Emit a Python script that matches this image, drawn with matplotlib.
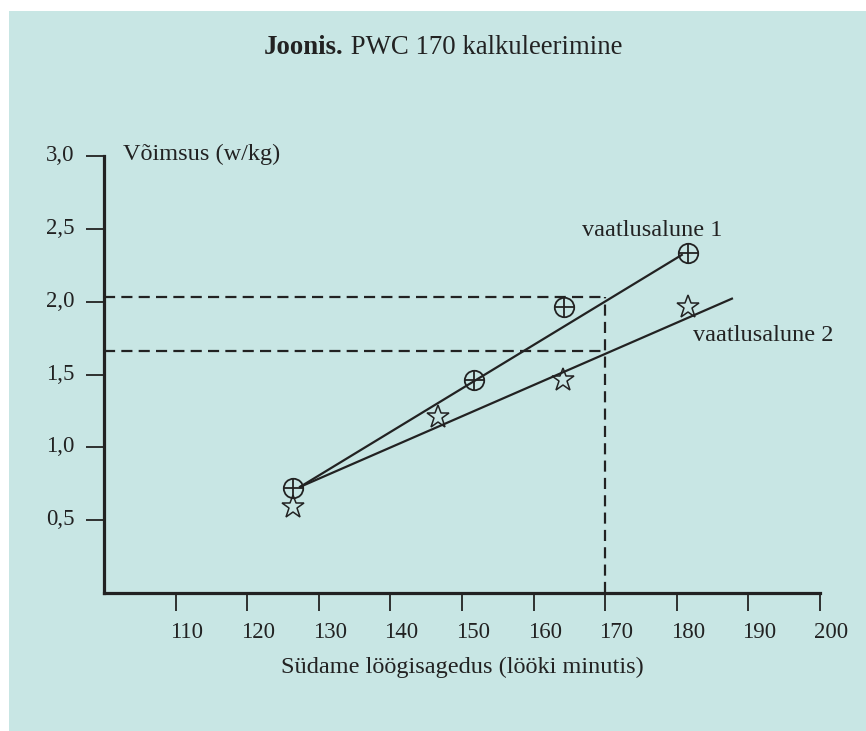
import matplotlib.pyplot as plt
import matplotlib.transforms as mtransforms
from matplotlib.patches import Rectangle

# subject 1: heart rate (beats/min) vs power (W/kg)
hr1 = [126.4, 151.7, 164.2, 181.6]
pw1 = [0.72, 1.46, 1.96, 2.33]
# subject 2
hr2 = [126.4, 146.6, 164.1, 181.6]
pw2 = [0.59, 1.21, 1.46, 1.96]

# drawn fit lines (end points)
fit1_x = [127.4, 180.7]
fit1_y = [0.73, 2.32]
fit2_x = [127.4, 187.7]
fit2_y = [0.73, 2.02]

# PWC 170 read-off
pwc_hr = 170
pwc1 = 2.03
pwc2 = 1.66

xticks = [110, 120, 130, 140, 150, 160, 170, 180, 190, 200]
yticks = [0.5, 1.0, 1.5, 2.0, 2.5, 3.0]
ytick_labels = ['0,5', '1,0', '1,5', '2,0', '2,5', '3,0']

ink = '#222222'
plt.rcParams['font.family'] = ['Liberation Serif', 'DejaVu Serif']

fig = plt.figure(figsize=(8.66, 7.31), dpi=100)
fig.patches.append(Rectangle((9 / 866, 0), 1, 1 - 11 / 731, transform=fig.transFigure,
                             facecolor='#c8e6e4', edgecolor='none', zorder=-1))

ax = fig.add_axes([104 / 866, 137.7 / 731, 716 / 866, 437.6 / 731])
ax.set_facecolor('none')
ax.set_xlim(100, 200)
ax.set_ylim(0, 3.0)

# axes look
for s in ['top', 'right']:
    ax.spines[s].set_visible(False)
for s in ['left', 'bottom']:
    ax.spines[s].set_linewidth(2.3)
    ax.spines[s].set_color(ink)
    ax.spines[s].set_capstyle('projecting')

ax.set_xticks(xticks)
ax.set_xticklabels([str(t) for t in xticks])
ax.set_yticks(yticks)
ax.set_yticklabels(ytick_labels)
ax.tick_params(axis='both', direction='out', length=13, width=1.3, color=ink,
               labelcolor=ink, labelsize=16.5)
ax.tick_params(axis='x', pad=8)
ax.tick_params(axis='y', pad=8)

# labels sit a bit off the ticks, like in the print
dx = mtransforms.ScaledTranslation(11 / 100, 0, fig.dpi_scale_trans)
for lab in ax.get_xticklabels():
    lab.set_transform(lab.get_transform() + dx)
dy = mtransforms.ScaledTranslation(0, 3 / 100, fig.dpi_scale_trans)
for lab in ax.get_yticklabels():
    lab.set_transform(lab.get_transform() + dy)

# dashed read-off lines
dash = dict(color=ink, lw=1.6, dashes=(5, 2.8))
ax.plot([100, pwc_hr], [pwc1, pwc1], **dash)
ax.plot([100, pwc_hr], [pwc2, pwc2], **dash)
ax.plot([pwc_hr, pwc_hr], [0, pwc1], **dash)

# fit lines
ax.plot(fit1_x, fit1_y, color=ink, lw=1.6)
ax.plot(fit2_x, fit2_y, color=ink, lw=1.6)

# points
ax.plot(hr1, pw1, 'o', ms=14, mfc='none', mec=ink, mew=1.3, zorder=5)
ax.plot(hr1, pw1, '+', ms=14, mec=ink, mew=1.3, zorder=5)
ax.plot(hr2, pw2, '*', ms=17, mfc='none', mec=ink, mew=1.1, zorder=5)

ax.text(166.8, 2.485, 'vaatlusalune 1', fontsize=17.5, color=ink, ha='left', va='center')
ax.text(182.2, 1.77, 'vaatlusalune 2', fontsize=17.5, color=ink, ha='left', va='center')
ax.text(102.6, 3.01, 'Võimsus (w/kg)', fontsize=17.5, color=ink, ha='left', va='center',
        clip_on=False)

fig.text(462 / 866, 1 - 667 / 731, 'Südame löögisagedus (lööki minutis)', fontsize=17.5,
         color=ink, ha='center', va='center')

# title: bold part + regular part
t1 = fig.text(264 / 866, 1 - 48 / 731, 'Joonis.', fontsize=19.3, fontweight='bold',
              color=ink, ha='left', va='center')
ax.annotate(' PWC 170 kalkuleerimine', xy=(1, 0), xycoords=t1, fontsize=19.3,
            color=ink, ha='left', va='bottom', annotation_clip=False)

fig.savefig('out.png', dpi=100, facecolor='white')
